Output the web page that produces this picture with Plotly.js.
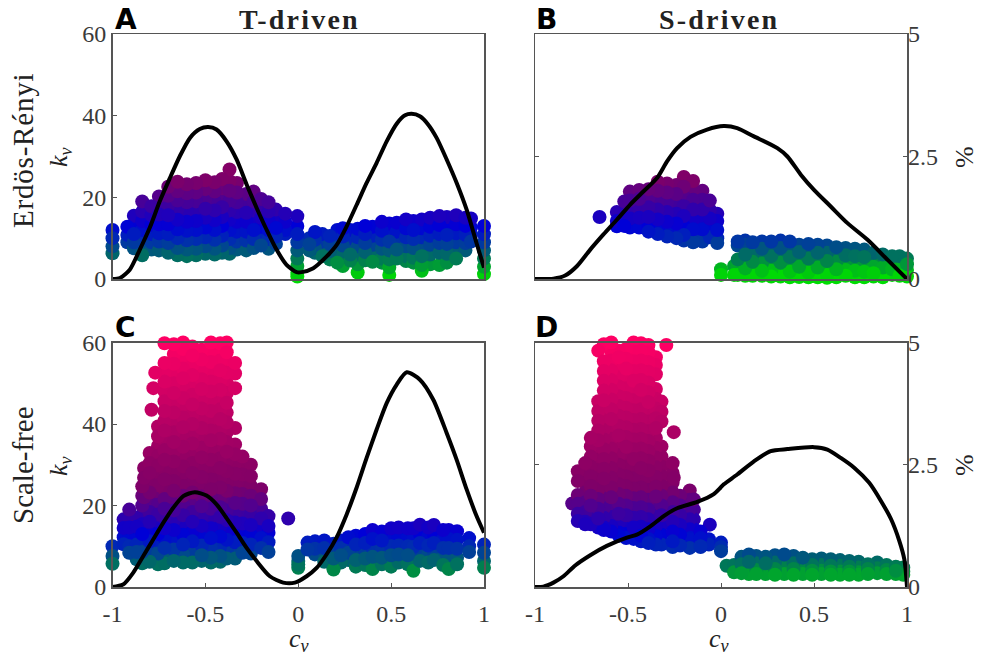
<!DOCTYPE html>
<html><head><meta charset="utf-8">
<script src="https://cdn.plot.ly/plotly-3.0.1.min.js"></script>
<style>
html,body{margin:0;padding:0;background:#fff}
#chart{width:982px;height:654px}
text[data-unformatted*="driven"]{letter-spacing:2.2px}
text[data-unformatted*="Erd"]{letter-spacing:.8px}
</style></head><body><div id="chart"></div>
<script>
const xTickVals=[-1,-0.5,0,0.5,1];
const xTickText=['-1','-0.5','0','0.5','1'];
const kTickVals=[0,20,40,60];
const kTickText=['0','20','40','60'];
const pctTickVals=[0,2.5,5];
const pctTickText=['0','2.5','5'];

// Panel A: columns of nodes, c_v then k_v values
const cvA=[-1,-0.92,-0.885,-0.84,-0.79,-0.75,-0.70,-0.65,-0.60,-0.55,-0.50,-0.45,-0.41,-0.37,-0.33,-0.28,-0.24,-0.20,-0.16,-0.12,-0.07,-0.005,
0.06,0.09,0.13,0.17,0.21,0.24,0.28,0.32,0.36,0.40,0.45,0.49,0.53,0.58,0.62,0.665,0.71,0.76,0.80,0.85,0.90,0.93,1];
const kvA=[[12,10,8,6.3],[12.8,10.8,9],[15.5,13.2,11,9,7.5],[19,16.5,14.2,12,10,8,5.8],[17.8,15.6,13.3,11,9,7.2],[20.2,18,15.8,13.4,11.2,9.2,7],[22.6,20.4,18,15.6,13.4,11,8.8,6.4],[23.8,21.5,19.2,17,14.5,12.2,10,7.6,5.8],[23.2,21,18.8,16.4,14,11.8,9.5,7.2,5.6],[23.5,21.2,19,16.6,14.2,12,9.8,7.4,5.8],[24.2,22,19.6,17.2,15,12.6,10.2,8,6.2],[23.7,21.4,19,16.8,14.4,12,9.6,7.4,6],[24.5,22.2,20,17.6,15.2,13,10.6,8.2,6.4],[26.8,24,21.6,19.2,16.8,14.5,12,9.8,7.6,6.2],[23.5,21.2,18.8,16.4,14,11.6,9.2,7.2],[20.8,18.6,16.2,14,11.6,9.4,7],[21.4,19,16.8,14.4,12,9.8,7.6],[19.6,17.4,15,12.8,10.4,8.2],[18.8,16.5,14.2,12,9.8,7.4],[17,14.8,12.5,10.4,8.6],[16,14,12,11],[15.4,13,11,9,7,5,3.2,1.5,0.6],
[10,8.5,7],[11.5,9.6,7.6,6.4],[11,9.2,7.4,5.6],[10.5,8.6,6.8,4.8],[12,10,8,6,4],[12.4,10.4,8.2,6.2,3.2],[12,10,8,6,4.5],[12.3,10.2,8,6,3.6,1.6],[13,11,8.8,6.6,4.6],[12.8,10.6,8.4,6.2,4.2],[14,11.8,9.6,7.4,5,4],[13.6,11.4,9.2,7,4.8,2.8,1],[13.8,11.6,9.4,7.2,5],[14.6,12.4,10.2,8,5.6,4.4],[14.2,12,9.8,7.6,5.2,4],[14.6,12.4,10.2,8,5.6,3.4,2],[15,12.8,10.6,8.4,6,3.6],[15.4,13.2,11,8.8,6.4,3.4],[15.2,13,10.8,8.6,6.2,4],[15.6,13.4,11.2,9,6.8,5],[15,13,10.8,8.8,7],[14.8,12.6,10.8,9.2],[13,11,9,7,5,3,1.2]];

// Panel B
const cvB=[-0.653,-0.56,-0.52,-0.49,-0.44,-0.39,-0.34,-0.29,-0.24,-0.20,-0.15,-0.10,-0.06,-0.02,
0,0.07,0.09,0.13,0.17,0.22,0.27,0.32,0.37,0.42,0.47,0.52,0.57,0.62,0.67,0.72,0.77,0.82,0.87,0.92,0.96,1];
const kvB=[[15.2],[16.4,14.2,12.9],[19,17,15,13],[21.4,19.2,17,14.8,12.6],[21.8,19.6,17.4,15,12.6],[22,19.8,17.6,15.2,13,11.6],[23.8,21.6,19.2,17,14.6,12.4,11],[23.4,21.2,18.8,16.4,14,11.8,10.4],[23,20.8,18.4,16,13.6,11.4,10],[25,22.6,20.2,17.8,15.4,13,10.8,9.4],[24,21.8,19.4,17,14.6,12.2,10,9],[21.6,19.4,17,14.6,12.2,10.2,9.2],[19.2,17,14.8,12.4,10.2],[16,14.2,12,10,8.8],
[2.4,1],[3.2,1],[9.2,8.2,4.8,3,1],[9.4,8.4,6,4.4,2.6,0.8],[9,7.8,6,4.2,2.4,0.8],[9.2,7.4,5.6,3.8,2,0.8],[9.2,7.4,5.6,3.8,2,0.6],[9.4,7.6,5.8,4,2.2,0.6],[9.2,7.2,5.4,3.6,1.8,0.4],[8.4,6.6,4.8,3,1.4,0.5],[8.6,6.8,5,3.2,1.6,0.4],[8.4,6.4,4.6,2.8,1.2,0.4],[8.2,6.4,4.4,2.8,1,0.3],[7.8,6,4.2,2.4,0.8,0.4],[7.6,5.8,4,2.2,0.8],[7.4,5.6,3.8,2,0.4],[7.2,5.4,3.6,1.8,0.4],[6.4,4.8,3,1.4,0.6],[6,4.4,2.8,1.2,0.4],[5.6,4,2.4,1],[5.6,4,2.4,0.8],[5,3.6,2.2,0.6]];

// Panel C
const cvC=[-1,-0.94,-0.91,-0.87,-0.84,-0.83,-0.80,-0.79,-0.78,-0.77,-0.755,-0.72,-0.67,-0.62,-0.57,-0.52,-0.47,-0.42,-0.385,-0.34,-0.30,-0.255,-0.20,-0.16,-0.054,0,
0.05,0.09,0.14,0.19,0.23,0.27,0.31,0.36,0.40,0.45,0.50,0.54,0.59,0.62,0.655,0.70,0.73,0.78,0.81,0.855,0.92,1];
const kvC=[[10,7.6,5.7],[16.6,14.5,12.2,10.5],[19,16.8,14.6,12.4,10,8.4],[17,14.8,12.6,10.4,8.6,6.8],[24.7,22.4,20,17.8,15.4,13,10.8,8.6,5.8],[29.2,26.8,24.4,22],[32.9,30.4,28,25.6,23.2,20.8,18.4,16,13.6,11.2,8.8,6.2],[43.5],[48.8],[52.6],[39.4,37,34.6,32.2,29.8,27.4,25,22.6,20.2,17.8,15.4,13,10.6,8.2,5.6],
[59.8,55,52.8,50.4,48,45.6,43.2,40.8,38.4,36,33.6,31.2,28.8,26.4,24,21.6,19.2,16.8,14.4,12,9.6,7.2,5.8],
[59.6,57.2,54.8,52.4,50,47.6,45.2,42.8,40.4,38,35.6,33.2,30.8,28.4,26,23.6,21.2,18.8,16.4,14,11.6,9.2,6.4],
[60,58.4,56,53.6,51.2,48.8,46.4,44,41.6,39.2,36.8,34.4,32,29.6,27.2,24.8,22.4,20,17.6,15.2,12.8,10.4,8,6],
[60.5,59,56.8,54.4,52,49.6,47.2,44.8,42.4,40,37.6,35.2,32.8,30.4,28,25.6,23.2,20.8,18.4,16,13.6,11.2,8.8,6],
[60.3,58.2,55.8,53.4,51,48.6,46.2,43.8,41.4,39,36.6,34.2,31.8,29.4,27,24.6,22.2,19.8,17.4,15,12.6,10.2,7.8,6.4],
[60,57.6,55.2,52.8,50.4,48,45.6,43.2,40.8,38.4,36,33.6,31.2,28.8,26.4,24,21.6,19.2,16.8,14.4,12,9.6,7.2,6],
[59.8,58,55.6,53.2,50.8,48.4,46,43.6,41.2,38.8,36.4,34,31.6,29.2,26.8,24.4,22,19.6,17.2,14.8,12.4,10,7.6,6.2],
[60,57.6,55.2,52.6,50,47.6,45.2,42.8,40.4,38,35.6,33.2,30.8,28.4,26,23.6,21.2,18.8,16.4,14,11.6,9.2,7],
[55,52.4,48.8,39,35,32.6,30.2,27.8,25.4,23,20.6,18.2,15.8,13.4,11,8.6,7],
[32,30,27.6,25.2,22.8,20.4,18,15.6,13.2,10.8,8.4],[30,27.2,24.8,22.4,20,17.6,15.2,12.8,10.4,8.2],[24,21.6,19.2,16.8,14.4,12,9.6],[17.4,15,13.3,11,8.6],[16.8],[7.6,6.4,5.5,4.7],
[10.9,9.2],[11.2,9.4,8],[11.4,9.6,7.8,6.2],[10.6,8.8,7,4.6,4.3],[11.4,9.6,7.8,6],[12.2,10.2,8.4,6.6],[12.6,10.4,8.4,6.6,5],[13,10.8,8.8,7,5.4],[14,11.8,9.6,7.4,4.4],[13.6,11.4,9.4,7.2,5.6],[14.4,12.2,10,7.8,5],[14.6,12.4,10.2,8,6],[14.4,12.2,10,7.8,5.6],[14.4,12,9.8,7.6,4],[15.3,13,10.8,8.6,6.4],[14.6,12.4,10.2,8,6],[15.2,13,10.8,8.6,6.6],[14,11.8,9.6,7.4,5.4],[14,11.8,9.6,7.4,4.4],[13.7,11.6,9.4,7.2,5.6],[12,10,8.6],[10.4,8.4,6.4,4.7]];

// Panel D
const cvD=[-0.80,-0.77,-0.73,-0.70,-0.66,-0.63,-0.59,-0.55,-0.51,-0.47,-0.43,-0.39,-0.35,-0.32,-0.294,-0.254,-0.26,-0.22,-0.168,-0.146,-0.164,-0.11,-0.06,-0.065,0,
0.03,0.07,0.11,0.15,0.19,0.24,0.29,0.34,0.39,0.44,0.49,0.54,0.59,0.64,0.69,0.74,0.79,0.84,0.89,0.94,0.98,1.01];
const kvD=[[20.5],[28.4,26,22.6,20.4,18,16.2],[30.4,28,25.6,23.2,20.8,18.4,16,15.4],[36.6,34.5,32,29.6,27.2,24.8,22.4,20,17.6,15.4],
[58,45.6,43.2,40.8,38.4,36,33.6,31.2,28.8,26.4,24,21.6,19.2,16.8,14.6],
[59.6,55.4,53,50.6,48.2,45.8,43.4,41,38.6,36.2,33.8,31.4,29,26.6,24.2,21.8,19.4,17,14.6,14],
[60,57.8,55.6,53.2,50.8,48.4,46,43.6,41.2,38.8,36.4,34,31.6,29.2,26.8,24.4,22,19.6,17.2,15,13.6],
[60.2,58,56.4,54,51.6,49.2,46.8,44.4,42,39.6,37.2,34.8,32.4,30,27.6,25.2,22.8,20.4,18,15.6,13.4,12.6],
[60.4,58.4,56,53.6,51.2,48.8,46.4,44,41.6,39.2,36.8,34.4,32,29.6,27.2,24.8,22.4,20,17.6,15.2,13,12],
[60,57.8,55.4,53,50.6,48.2,45.8,43.4,41,38.6,36.2,33.8,31.4,29,26.6,24.2,21.8,19.4,17,14.6,12.4,11.8],
[59.8,58,55.6,53.2,50.8,48.4,46,43.6,41.2,38.8,36.4,34,31.6,29.2,26.8,24.4,22,19.6,17.2,14.8,12.6,11.2],
[59.4,57.6,55.2,52.8,50.2,47.8,45.4,43,40.6,38.2,35.8,33.4,31,28.6,26.2,23.8,21.4,19,16.6,14.2,11.8,10.8],
[56.4,54.5,52.2,48.6,46.2,43.8,41.4,39,36.6,34.2,31.8,29.4,27,24.6,22.2,19.8,17.4,15,12.6,10.4],
[45.5,43,40.6,34.5,32,29.6,27.2,24.8,22.4,20,17.6,15.2,12.8,10.4],
[59.4],[38,26.8],[30.4,28,25.6,23.2,20.8,18.4,16,13.6,11.2,9.8],[22.4,20,17.6,15.2,12.8,10.2],[23.7,21.4,19,16.6,14.2,11.8,9.6],[21.5,19,16.6,14.2],[10.4,12],[13.6,12,10,9.8],[15.3],[11.7,10.4],[10.9,9.8,8.8],
[5.2],[5.4,3.6],[7.4,5.6,3.4],[8,6.2,4.6,3.2],[7.6,5.8,4.2,3.2],[7.4,5.8,4.4,3.2],[7.8,6,4.4,3],[8,6.2,4.6,3.2],[7.6,5.8,4.4,3],[7.2,5.6,4.2,3.2],[6.8,5.4,4,3],[7,5.4,4,3.2],[6.8,5.2,3.8,3],[6.6,5.2,3.8,3],[6.4,5,3.8,3],[6.2,4.8,3.6,3],[5.6,4.4,3.2],[6,4.6,3.4],[5.4,4.2,3.2],[5,4,3.2],[4.8,3.8,3],[5,3.8,3],[4.6,3.4]];

// Density curves: c_v, percent of nodes
const curveAx=[-1,-0.96,-0.907,-0.853,-0.799,-0.745,-0.691,-0.637,-0.583,-0.53,-0.485,-0.44,-0.386,-0.332,-0.278,-0.224,-0.171,-0.117,-0.063,-0.009,0.018,0.081,0.153,0.206,0.26,0.314,0.368,0.422,0.476,0.53,0.575,0.61,0.655,0.7,0.745,0.799,0.853,0.907,0.96,1];
const curveAy=[0,0.02,0.19,0.6,1.05,1.59,2.06,2.51,2.88,3.06,3.1,3.05,2.81,2.44,1.93,1.45,1.01,0.6,0.29,0.14,0.14,0.22,0.46,0.69,1.07,1.51,1.96,2.37,2.81,3.17,3.34,3.37,3.32,3.15,2.88,2.44,1.96,1.41,0.73,0.23];
const curveBx=[-1,-0.901,-0.838,-0.775,-0.703,-0.632,-0.56,-0.488,-0.416,-0.344,-0.29,-0.236,-0.164,-0.075,0.015,0.087,0.177,0.303,0.357,0.429,0.5,0.59,0.68,0.788,0.896,1];
const curveBy=[0,0.007,0.07,0.26,0.6,0.91,1.21,1.52,1.79,2.06,2.4,2.67,2.9,3.05,3.12,3.08,2.91,2.67,2.5,2.13,1.82,1.48,1.14,0.8,0.39,0];
const curveCx=[-1,-0.943,-0.889,-0.835,-0.781,-0.727,-0.673,-0.619,-0.557,-0.494,-0.44,-0.386,-0.332,-0.278,-0.224,-0.153,-0.081,-0.018,0.045,0.099,0.153,0.206,0.26,0.314,0.368,0.422,0.476,0.53,0.584,0.655,0.727,0.799,0.853,0.907,0.96,1];
const curveCy=[0,0.05,0.29,0.63,0.97,1.31,1.62,1.86,1.94,1.87,1.69,1.41,1.11,0.8,0.53,0.22,0.09,0.09,0.22,0.39,0.67,1.01,1.48,2.03,2.64,3.22,3.76,4.14,4.39,4.24,3.83,3.15,2.6,1.99,1.45,1.11];
const curveDx=[-1,-0.955,-0.901,-0.847,-0.784,-0.703,-0.614,-0.506,-0.452,-0.38,-0.308,-0.236,-0.128,-0.039,-0.003,0.015,0.087,0.177,0.267,0.357,0.5,0.572,0.644,0.716,0.797,0.86,0.914,0.959,0.986,1];
const curveDy=[0,0.007,0.09,0.22,0.44,0.65,0.84,1.01,1.07,1.24,1.45,1.61,1.74,1.9,2.03,2.1,2.3,2.57,2.78,2.82,2.86,2.81,2.64,2.44,2.13,1.76,1.39,0.94,0.56,0];

const colorStops=[[0,'rgb(0,225,0)'],[0.025,'rgb(0,205,10)'],[0.05,'rgb(0,165,45)'],[0.075,'rgb(0,130,75)'],[0.117,'rgb(0,90,120)'],[0.167,'rgb(0,40,180)'],[0.217,'rgb(0,0,215)'],[0.3,'rgb(60,0,160)'],[0.4,'rgb(125,0,105)'],[0.5,'rgb(140,0,100)'],[0.667,'rgb(180,0,100)'],[1,'rgb(255,0,100)']];

const W=982,H=654;
const serif='"Liberation Serif", serif';
const ink='#3a3a3a', frame='#555';

// draw order only: a fixed stride through the nodes so that colours overlap unevenly
function flatten(cols,vals){
  const pts=[];
  cols.forEach((c,i)=>vals[i].forEach(k=>pts.push([c,k])));
  let stride=61; while(pts.length%stride===0) stride+=2;
  return pts.map((_,i)=>pts[(i*stride)%pts.length]);
}
function cloud(cols,vals,n){
  const pts=flatten(cols,vals);
  const sfx=n===1?'':String(n);
  return {type:'scatter',mode:'markers',x:pts.map(p=>p[0]),y:pts.map(p=>p[1]),xaxis:'x'+sfx,yaxis:'y'+sfx,cliponaxis:false,showlegend:false,hoverinfo:'skip',
    marker:{size:14,color:pts.map(p=>p[1]),cmin:0,cmax:60,colorscale:colorStops,showscale:false,line:{width:0}}};
}
function curve(x,y,n){
  return {type:'scatter',mode:'lines',x:x,y:y,xaxis:'x'+(n===1?'':n),yaxis:'y'+(n+4),cliponaxis:false,showlegend:false,hoverinfo:'skip',
    line:{color:'#000',width:4,shape:'spline',smoothing:0.7}};
}
const traces=[cloud(cvA,kvA,1),cloud(cvB,kvB,2),cloud(cvC,kvC,3),cloud(cvD,kvD,4),
  curve(curveAx,curveAy,1),curve(curveBx,curveBy,2),curve(curveCx,curveCy,3),curve(curveDx,curveDy,4)];

const colsPx=[[112.5,484],[535,907]], rowsPx=[[34,279],[342.5,587]];
const dx=p=>[p[0]/W,p[1]/W], dy=p=>[1-p[1]/H,1-p[0]/H];
const tickFont={family:serif,size:24,color:ink};
function xAxis(col,row){
  const lab=row===1;
  return {domain:dx(colsPx[col]),range:[-1,1],anchor:'y'+(row*2+col+1===1?'':row*2+col+1),showline:true,mirror:true,linecolor:frame,linewidth:1.5,showgrid:false,zeroline:false,
    tickmode:'array',tickvals:lab?xTickVals:[],ticktext:lab?xTickText:[],ticks:lab?'inside':'',ticklen:4,tickcolor:frame,tickwidth:1,tickfont:tickFont,ticklabelstandoff:5,showticklabels:lab};
}
function yAxis(col,row){
  const lab=col===0;
  return {domain:dy(rowsPx[row]),range:[0,60],anchor:'x'+(row*2+col+1===1?'':row*2+col+1),showline:true,mirror:true,linecolor:frame,linewidth:1.5,showgrid:false,zeroline:false,
    tickmode:'array',tickvals:lab?kTickVals:[],ticktext:lab?kTickText:[],ticks:lab?'inside':'',ticklen:4,tickcolor:frame,tickwidth:1,tickfont:tickFont,showticklabels:lab};
}
function pctAxis(col,row){
  const n=row*2+col+1, lab=col===1;
  return {domain:dy(rowsPx[row]),range:[0,5],anchor:'x'+(n===1?'':n),overlaying:'y'+(n===1?'':n),side:'right',showgrid:false,zeroline:false,showline:false,
    tickmode:'array',tickvals:lab?pctTickVals:[],ticktext:lab?pctTickText:[],ticks:lab?'inside':'',ticklen:4,tickcolor:frame,tickwidth:1,mirror:lab?'ticks':false,tickfont:tickFont,showticklabels:lab};
}
function label(text,x,y,size,angle,extra){
  return Object.assign({text:text,xref:'paper',yref:'paper',x:x/W,y:1-y/H,xanchor:'center',yanchor:'middle',showarrow:false,textangle:angle||0,
    font:{family:serif,size:size,color:'#222'}},extra||{});
}
const boldSans={font:{family:'"DejaVu Sans"',size:28,color:'#000',weight:700}};
const boldSerif={font:{family:serif,size:28,color:'#222',weight:700}};
const annotations=[
  label('A',126,19,28,0,boldSans),label('B',546,19,28,0,boldSans),
  label('C',125,327,28,0,boldSans),label('D',546,327,28,0,boldSans),
  label('T-driven',299,20,28,0,boldSerif),label('S-driven',719,20,28,0,boldSerif),
  label('Erdös-Rényi',23,151,29,-90),label('Scale-free',23,465,29,-90),
  label('<i>k<sub>v</sub></i>',60,157,26,-90),label('<i>k<sub>v</sub></i>',60,466,26,-90),
  label('<i>c<sub>v</sub></i>',299,640,26),label('<i>c<sub>v</sub></i>',719,640,26),
  label('%',965,157,26,-90),label('%',965,465,26,-90)
];
const layout={width:W,height:H,margin:{l:0,r:0,t:0,b:0},paper_bgcolor:'#fff',plot_bgcolor:'#fff',showlegend:false,annotations:annotations,
  xaxis:xAxis(0,0),xaxis2:xAxis(1,0),xaxis3:xAxis(0,1),xaxis4:xAxis(1,1),
  yaxis:yAxis(0,0),yaxis2:yAxis(1,0),yaxis3:yAxis(0,1),yaxis4:yAxis(1,1),
  yaxis5:pctAxis(0,0),yaxis6:pctAxis(1,0),yaxis7:pctAxis(0,1),yaxis8:pctAxis(1,1)};
Plotly.newPlot('chart',traces,layout,{displayModeBar:false,staticPlot:true});
</script></body></html>
